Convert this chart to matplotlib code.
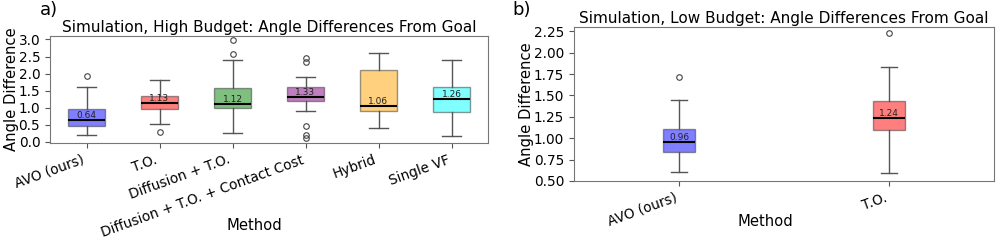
import matplotlib
matplotlib.use("Agg")
import matplotlib.pyplot as plt

# panel a: high budget
hi_methods = ['AVO (ours)', 'T.O.', 'Diffusion + T.O.', 'Diffusion + T.O. + Contact Cost', 'Hybrid', 'Single VF']
hi_colors = ['blue', 'red', 'green', 'purple', 'orange', 'cyan']
hi_med = [0.64, 1.13, 1.12, 1.33, 1.06, 1.26]
hi_q1 = [0.46, 0.97, 0.99, 1.19, 0.91, 0.89]
hi_q3 = [0.97, 1.35, 1.59, 1.62, 2.12, 1.61]
hi_whislo = [0.21, 0.54, 0.26, 0.91, 0.41, 0.17]
hi_whishi = [1.62, 1.82, 2.40, 1.91, 2.61, 2.41]
hi_fliers = [[1.94], [0.29], [2.98, 2.57], [2.46, 2.34, 0.47, 0.19, 0.12], [], []]

# panel b: low budget
lo_methods = ['AVO (ours)', 'T.O.']
lo_colors = ['blue', 'red']
lo_med = [0.96, 1.24]
lo_q1 = [0.84, 1.10]
lo_q3 = [1.11, 1.44]
lo_whislo = [0.61, 0.59]
lo_whishi = [1.45, 1.83]
lo_fliers = [[1.72], [2.23]]

TICK_FS = 9.8
LABEL_FS = 10.6


def make_stats(med, q1, q3, lo, hi, fl):
    return [dict(med=m, q1=a, q3=b, whislo=l, whishi=h, fliers=f)
            for m, a, b, l, h, f in zip(med, q1, q3, lo, hi, fl)]


def draw_panel(ax, stats, labels, colors, width, title, yticks):
    bp = ax.bxp(stats, widths=width, patch_artist=True, showfliers=True,
                medianprops=dict(color='black', linewidth=1.5),
                whiskerprops=dict(color='#555555', linewidth=1),
                capprops=dict(color='#555555', linewidth=1),
                flierprops=dict(marker='o', markersize=4, markerfacecolor='none',
                                markeredgecolor='#444444', markeredgewidth=0.8))
    for patch, c in zip(bp['boxes'], colors):
        patch.set_facecolor(c)
        patch.set_edgecolor('#333333')
        patch.set_alpha(0.5)
    # median value written just above each median line
    for i, s in enumerate(stats):
        ax.text(i + 1, s['med'], f"{s['med']:.2f}", ha='center', va='bottom',
                fontsize=6.5, color='#222222')
    ax.set_xticks(range(1, len(labels) + 1))
    ax.set_xticklabels(labels, rotation=20, ha='right')
    ax.set_yticks(yticks)
    ax.tick_params(labelsize=TICK_FS, color='#555555')
    ax.set_xlabel('Method', fontsize=LABEL_FS)
    ax.set_ylabel('Angle Difference', fontsize=LABEL_FS, labelpad=0)
    ax.set_title(title, fontsize=11, pad=3)
    for sp in ax.spines.values():
        sp.set_color('#777777')


fig = plt.figure(figsize=(9.97, 2.42), dpi=100)

ax1 = fig.add_axes([50 / 997, 1 - 143 / 242, 438 / 997, 107 / 242])
draw_panel(ax1, make_stats(hi_med, hi_q1, hi_q3, hi_whislo, hi_whishi, hi_fliers),
           hi_methods, hi_colors, 0.5,
           'Simulation, High Budget: Angle Differences From Goal',
           [0.0, 0.5, 1.0, 1.5, 2.0, 2.5, 3.0])
ax1.set_ylim(-0.03, 3.1)
ax1.set_yticklabels(['0.0', '0.5', '1.0', '1.5', '2.0', '2.5', '3.0'])
ax1.xaxis.set_label_coords(0.466, -0.70)

ax2 = fig.add_axes([574 / 997, 1 - 181 / 242, 420 / 997, 154 / 242])
draw_panel(ax2, make_stats(lo_med, lo_q1, lo_q3, lo_whislo, lo_whishi, lo_fliers),
           lo_methods, lo_colors, 0.15,
           'Simulation, Low Budget: Angle Differences From Goal',
           [0.50, 0.75, 1.00, 1.25, 1.50, 1.75, 2.00, 2.25])
ax2.set_ylim(0.5, 2.3)
ax2.set_yticklabels(['0.50', '0.75', '1.00', '1.25', '1.50', '1.75', '2.00', '2.25'])
ax2.xaxis.set_label_coords(0.455, -0.214)

fig.text(40 / 997, 1 - 10 / 242, 'a)', fontsize=13, va='center')
fig.text(512 / 997, 1 - 10 / 242, 'b)', fontsize=13, va='center')

fig.savefig('out.png', dpi=100)
